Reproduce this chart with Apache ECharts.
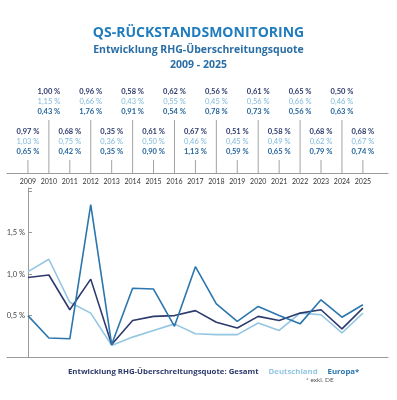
<!DOCTYPE html>
<html lang="de">
<head>
    <meta charset="UTF-8">
    <title>QS-Rückstandsmonitoring</title>
    <script src="https://cdn.jsdelivr.net/npm/echarts@6.0.0/dist/echarts.min.js"></script>
    <style>
        html, body { margin: 0; padding: 0; background: #fff; }
        #main { width: 397px; height: 400px; }
    </style>
</head>
<body>
<div id="main"></div>
<script>
    // Jahre
    const years = [2009, 2010, 2011, 2012, 2013, 2014, 2015, 2016, 2017, 2018, 2019, 2020, 2021, 2022, 2023, 2024, 2025];

    // Beschriftungen oben (Gesamt / Deutschland / Europa*)
    const labelGesamt = [0.97, 1.00, 0.68, 0.96, 0.35, 0.58, 0.61, 0.62, 0.67, 0.56, 0.51, 0.61, 0.58, 0.65, 0.68, 0.50, 0.68];
    const labelDeutschland = [1.03, 1.15, 0.75, 0.66, 0.36, 0.43, 0.50, 0.55, 0.46, 0.45, 0.45, 0.56, 0.49, 0.66, 0.62, 0.46, 0.67];
    const labelEuropa = [0.65, 0.43, 0.42, 1.76, 0.35, 0.91, 0.90, 0.54, 1.13, 0.78, 0.59, 0.73, 0.65, 0.56, 0.79, 0.63, 0.74];

    // Verlauf im Diagramm
    const lineGesamt = [0.96, 0.99, 0.57, 0.94, 0.15, 0.44, 0.49, 0.50, 0.56, 0.42, 0.35, 0.49, 0.44, 0.53, 0.57, 0.34, 0.59];
    const lineDeutschland = [1.03, 1.18, 0.66, 0.53, 0.14, 0.24, 0.32, 0.40, 0.28, 0.27, 0.27, 0.41, 0.32, 0.53, 0.51, 0.29, 0.53];
    const lineEuropa = [0.50, 0.23, 0.22, 1.84, 0.15, 0.83, 0.82, 0.37, 1.09, 0.64, 0.43, 0.61, 0.50, 0.40, 0.69, 0.48, 0.63];

    // Y-Achse Beschriftung
    const yTicks = [0.5, 1.0, 1.5];

    const NAME_GESAMT = 'Entwicklung RHG-Überschreitungsquote: Gesamt';
    const NAME_DE = 'Deutschland';
    const NAME_EU = 'Europa*';

    const colNavy = '#2c3a6c';
    const colLight = '#94c6e2';
    const colMid = '#2a76ad';

    const fmt = v => v.toFixed(2).replace('.', ',') + ' %';
    const pair = arr => years.map((y, i) => [y, arr[i]]);

    const chart = echarts.init(document.getElementById('main'));

    const option = {
        animation: false,
        textStyle: { fontFamily: 'Lato' },
        title: [
            { text: 'QS-RÜCKSTANDSMONITORING', left: 'center', top: 21,
              textStyle: { fontFamily: 'Open Sans', fontSize: 14, fontWeight: 'bold', color: '#1f7cbd' } },
            { text: 'Entwicklung RHG-Überschreitungsquote', left: 'center', top: 40,
              textStyle: { fontFamily: 'Open Sans', fontSize: 10.5, fontWeight: 'bold', color: '#2a6ea6' } },
            { text: '2009 - 2025', left: 'center', top: 55,
              textStyle: { fontFamily: 'Open Sans', fontSize: 10.5, fontWeight: 'bold', color: '#2a6ea6' } }
        ],
        legend: {
            left: 57, top: 363,
            itemWidth: 0, itemHeight: 0, itemGap: 4,
            textStyle: { fontFamily: 'Open Sans', fontSize: 7.8, fontWeight: 'bold' },
            data: [
                { name: NAME_GESAMT, textStyle: { color: colNavy } },
                { name: NAME_DE, textStyle: { color: colLight } },
                { name: NAME_EU, textStyle: { color: colMid } }
            ],
            selectedMode: false
        },
        graphic: [
            { type: 'text', left: 306, top: 376,
              style: { text: '* exkl. DE', fontSize: 6.5, fill: '#555', fontFamily: 'Lato' } }
        ],
        grid: [
            { left: 7, right: 9, top: 80, height: 93 },
            { left: 7, right: 9, top: 188, height: 169 }
        ],
        xAxis: [
            {
                gridIndex: 0, type: 'value', min: 2008, max: 2026.2, interval: 1,
                axisLine: { lineStyle: { color: '#9a9a9a', width: 1 } },
                axisTick: { show: false },
                splitLine: { show: false },
                axisLabel: {
                    margin: 5, fontSize: 7, color: '#333', showMaxLabel: false,
                    formatter: v => (v >= 2009 && v <= 2025) ? String(v) : ''
                }
            },
            {
                gridIndex: 1, type: 'value', min: 2008, max: 2026.2, interval: 1,
                axisLine: { lineStyle: { color: '#9a9a9a', width: 1 } },
                axisTick: { show: false },
                splitLine: { show: false },
                axisLabel: { show: false }
            }
        ],
        yAxis: [
            { gridIndex: 0, type: 'value', min: 0, max: 1, show: false },
            {
                gridIndex: 1, type: 'value', min: 0, max: 2.04, interval: 0.5, offset: -21,
                axisLine: { show: true, lineStyle: { color: '#9a9a9a', width: 1 } },
                axisTick: { show: true, inside: true, length: 4, lineStyle: { color: '#9a9a9a' } },
                splitLine: { show: false },
                axisLabel: {
                    margin: 3, fontSize: 7.5, color: '#444',
                    formatter: v => yTicks.indexOf(v) >= 0 ? v.toFixed(1).replace('.', ',') + ' %' : ''
                }
            }
        ],
        series: [
            {
                // Stecknadeln mit Werten oben
                type: 'bar',
                xAxisIndex: 0, yAxisIndex: 0,
                barWidth: 1,
                silent: true,
                itemStyle: { color: '#a3a3a3' },
                data: years.map((y, i) => [y, i % 2 ? 0.57 : 0.14]),
                label: {
                    show: true, position: 'top', distance: 3,
                    formatter: p => {
                        const i = p.dataIndex;
                        return '{a|' + fmt(labelGesamt[i]) + '}\n{b|' + fmt(labelDeutschland[i]) + '}\n{c|' + fmt(labelEuropa[i]) + '}';
                    },
                    rich: {
                        a: { fontSize: 7.5, lineHeight: 10, fontWeight: 'bold', color: colNavy },
                        b: { fontSize: 7.5, lineHeight: 10, color: '#7fb9da' },
                        c: { fontSize: 7.5, lineHeight: 10, fontWeight: 'bold', color: '#24659c' }
                    }
                }
            },
            {
                name: NAME_DE, type: 'line', xAxisIndex: 1, yAxisIndex: 1,
                showSymbol: false, data: pair(lineDeutschland),
                lineStyle: { color: colLight, width: 1.6 }, itemStyle: { color: colLight }
            },
            {
                name: NAME_GESAMT, type: 'line', xAxisIndex: 1, yAxisIndex: 1,
                showSymbol: false, data: pair(lineGesamt),
                lineStyle: { color: colNavy, width: 1.6 }, itemStyle: { color: colNavy }
            },
            {
                name: NAME_EU, type: 'line', xAxisIndex: 1, yAxisIndex: 1,
                showSymbol: false, data: pair(lineEuropa),
                lineStyle: { color: colMid, width: 1.6 }, itemStyle: { color: colMid }
            }
        ]
    };

    chart.setOption(option);
</script>
</body>
</html>
